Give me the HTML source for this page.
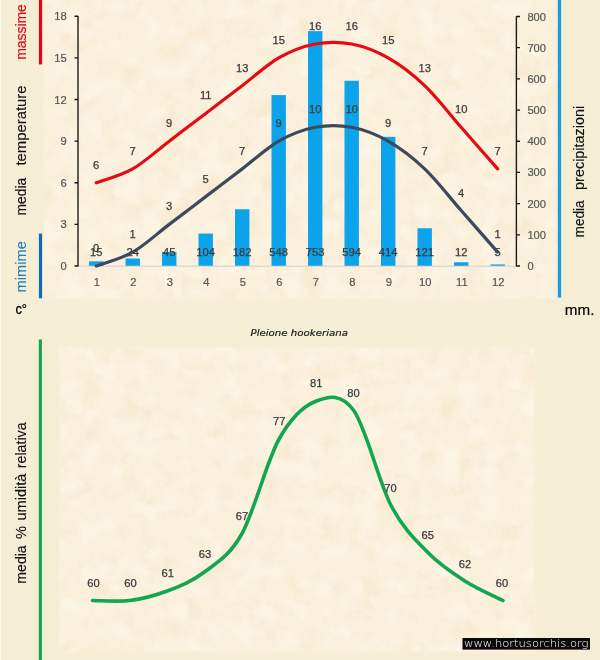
<!DOCTYPE html>
<html lang="it"><head><meta charset="utf-8"><title>Pleione hookeriana</title>
<style>html,body{margin:0;padding:0;background:#f5eed4;}body{width:600px;height:660px;overflow:hidden;}svg{display:block;}text{font-family:"Liberation Sans",Arial,sans-serif;}.dl{font-size:11.2px;fill:#3a3a3a;stroke:#3a3a3a;stroke-width:0.25px;text-anchor:middle;}.ax{font-size:11.2px;fill:#555;stroke:#555;stroke-width:0.2px;}.vt{font-size:15.2px;fill:#111;stroke:#111;stroke-width:0.15px;}</style></head><body>
<svg width="600" height="660" viewBox="0 0 600 660">
<defs>
<filter id="mott" x="0" y="0" width="100%" height="100%" color-interpolation-filters="sRGB"><feTurbulence type="fractalNoise" baseFrequency="0.05" numOctaves="4" seed="11" result="n"/><feColorMatrix in="n" type="matrix" values="0 0 0 0 1  0 0 0 0 0.98  0 0 0 0 0.93  3.2 0 0 0 -1.45" result="w"/><feColorMatrix in="n" type="matrix" values="0 0 0 0 0.955  0 0 0 0 0.89  0 0 0 0 0.77  0 3.0 0 0 -1.45" result="t"/><feMerge><feMergeNode in="t"/><feMergeNode in="w"/></feMerge></filter>
<filter id="soft" x="-5%" y="-5%" width="110%" height="110%"><feGaussianBlur stdDeviation="1.2"/></filter>
</defs>
<rect width="600" height="660" fill="#f5eed4"/>
<rect x="0" y="0" width="1.2" height="660" fill="#fffcf0"/>
<g filter="url(#soft)"><rect x="43.5" y="-5" width="515.5" height="304" fill="#fbf0dc"/>
<rect x="59" y="347" width="476" height="305" fill="#fbf0dc"/></g>
<g opacity="0.48"><rect x="44.5" y="0" width="513.5" height="298" filter="url(#mott)"/>
<rect x="60" y="348" width="474" height="303" filter="url(#mott)"/></g>
<rect x="38.9" y="0" width="3.2" height="64.4" fill="#e2070f"/>
<rect x="38.9" y="233.6" width="3.2" height="64.7" fill="#0f69b4"/>
<rect x="557.8" y="0" width="3.3" height="297.6" fill="#189de2"/>
<rect x="38.8" y="339.5" width="3.1" height="321" fill="#12a650"/>
<rect x="89.05" y="261.32" width="14.4" height="4.68" fill="#0ca3ea"/>
<rect x="125.54" y="258.51" width="14.4" height="7.49" fill="#0ca3ea"/>
<rect x="162.03" y="251.97" width="14.4" height="14.03" fill="#0ca3ea"/>
<rect x="198.52" y="233.56" width="14.4" height="32.44" fill="#0ca3ea"/>
<rect x="235.01" y="209.24" width="14.4" height="56.76" fill="#0ca3ea"/>
<rect x="271.50" y="95.09" width="14.4" height="170.91" fill="#0ca3ea"/>
<rect x="308.00" y="31.16" width="14.4" height="234.84" fill="#0ca3ea"/>
<rect x="344.49" y="80.75" width="14.4" height="185.25" fill="#0ca3ea"/>
<rect x="380.98" y="136.88" width="14.4" height="129.12" fill="#0ca3ea"/>
<rect x="417.47" y="228.26" width="14.4" height="37.74" fill="#0ca3ea"/>
<rect x="453.96" y="262.26" width="14.4" height="3.74" fill="#0ca3ea"/>
<rect x="490.45" y="264.44" width="14.4" height="1.56" fill="#0ca3ea"/>
<path d="M78.0 266.2H515.9" stroke="#d0d0d0" stroke-width="1" fill="none"/>
<path d="M78 16V266.5M74.5 266.00H78M74.5 224.38H78M74.5 182.77H78M74.5 141.15H78M74.5 99.53H78M74.5 57.92H78M74.5 16.30H78" stroke="#151515" stroke-width="1.35" fill="none"/>
<path d="M516.4 16.2V266.5M516.4 266.00H520M516.4 234.81H520M516.4 203.62H520M516.4 172.44H520M516.4 141.25H520M516.4 110.06H520M516.4 78.88H520M516.4 47.69H520M516.4 16.50H520" stroke="#151515" stroke-width="1.35" fill="none"/>
<text class="ax" x="66.8" y="270.0" text-anchor="end">0</text>
<text class="ax" x="66.8" y="228.4" text-anchor="end">3</text>
<text class="ax" x="66.8" y="186.8" text-anchor="end">6</text>
<text class="ax" x="66.8" y="145.2" text-anchor="end">9</text>
<text class="ax" x="66.8" y="103.5" text-anchor="end">12</text>
<text class="ax" x="66.8" y="61.9" text-anchor="end">15</text>
<text class="ax" x="66.8" y="20.3" text-anchor="end">18</text>
<text class="ax" x="527.4" y="270.0">0</text>
<text class="ax" x="527.4" y="238.8">100</text>
<text class="ax" x="527.4" y="207.6">200</text>
<text class="ax" x="527.4" y="176.4">300</text>
<text class="ax" x="527.4" y="145.2">400</text>
<text class="ax" x="527.4" y="114.1">500</text>
<text class="ax" x="527.4" y="82.9">600</text>
<text class="ax" x="527.4" y="51.7">700</text>
<text class="ax" x="527.4" y="20.5">800</text>
<text class="ax" x="96.8" y="286" text-anchor="middle">1</text>
<text class="ax" x="133.3" y="286" text-anchor="middle">2</text>
<text class="ax" x="169.8" y="286" text-anchor="middle">3</text>
<text class="ax" x="206.3" y="286" text-anchor="middle">4</text>
<text class="ax" x="242.8" y="286" text-anchor="middle">5</text>
<text class="ax" x="279.3" y="286" text-anchor="middle">6</text>
<text class="ax" x="315.8" y="286" text-anchor="middle">7</text>
<text class="ax" x="352.3" y="286" text-anchor="middle">8</text>
<text class="ax" x="388.8" y="286" text-anchor="middle">9</text>
<text class="ax" x="425.3" y="286" text-anchor="middle">10</text>
<text class="ax" x="461.8" y="286" text-anchor="middle">11</text>
<text class="ax" x="498.3" y="286" text-anchor="middle">12</text>
<text class="dl" x="96.2" y="256.2">15</text>
<text class="dl" x="132.7" y="256.2">24</text>
<text class="dl" x="169.2" y="256.2">45</text>
<text class="dl" x="205.7" y="256.2">104</text>
<text class="dl" x="242.2" y="256.2">182</text>
<text class="dl" x="278.7" y="256.2">548</text>
<text class="dl" x="315.2" y="256.2">753</text>
<text class="dl" x="351.7" y="256.2">594</text>
<text class="dl" x="388.2" y="256.2">414</text>
<text class="dl" x="424.7" y="256.2">121</text>
<text class="dl" x="461.2" y="256.2">12</text>
<text class="dl" x="497.7" y="256.2">5</text>
<path d="M96.25 266.00 C102.33 263.69 120.57 259.06 132.74 252.13 C144.90 245.19 157.07 233.63 169.23 224.38 C181.39 215.14 193.56 205.89 205.72 196.64 C217.88 187.39 230.05 178.14 242.21 168.89 C254.38 159.65 266.54 148.09 278.70 141.15 C290.87 134.21 303.03 129.59 315.20 127.28 C327.36 124.97 339.52 124.97 351.69 127.28 C363.85 129.59 376.02 134.21 388.18 141.15 C400.34 148.09 412.51 157.33 424.67 168.89 C436.83 180.45 449.00 196.64 461.16 210.51 C473.33 224.38 491.57 245.19 497.65 252.13" stroke="#3d4a5e" stroke-width="3.2" fill="none" stroke-linecap="round"/>
<path d="M96.25 182.77 C102.33 180.45 120.57 175.83 132.74 168.89 C144.90 161.96 157.07 150.40 169.23 141.15 C181.39 131.90 193.56 122.65 205.72 113.41 C217.88 104.16 230.05 94.91 242.21 85.66 C254.38 76.41 266.54 64.85 278.70 57.92 C290.87 50.98 303.03 46.36 315.20 44.04 C327.36 41.73 339.52 41.73 351.69 44.04 C363.85 46.36 376.02 50.98 388.18 57.92 C400.34 64.85 412.51 74.10 424.67 85.66 C436.83 97.22 449.00 113.41 461.16 127.28 C473.33 141.15 491.57 161.96 497.65 168.89" stroke="#e60a12" stroke-width="3.2" fill="none" stroke-linecap="round"/>
<text class="dl" x="96.2" y="252.0">0</text>
<text class="dl" x="132.7" y="238.1">1</text>
<text class="dl" x="169.2" y="210.4">3</text>
<text class="dl" x="205.7" y="182.6">5</text>
<text class="dl" x="242.2" y="154.9">7</text>
<text class="dl" x="278.7" y="127.2">9</text>
<text class="dl" x="315.2" y="113.3">10</text>
<text class="dl" x="351.7" y="113.3">10</text>
<text class="dl" x="388.2" y="127.2">9</text>
<text class="dl" x="424.7" y="154.9">7</text>
<text class="dl" x="461.2" y="196.5">4</text>
<text class="dl" x="497.7" y="238.1">1</text>
<text class="dl" x="96.2" y="168.8">6</text>
<text class="dl" x="132.7" y="154.9">7</text>
<text class="dl" x="169.2" y="127.2">9</text>
<text class="dl" x="205.7" y="99.4">11</text>
<text class="dl" x="242.2" y="71.7">13</text>
<text class="dl" x="278.7" y="43.9">15</text>
<text class="dl" x="315.2" y="30.0">16</text>
<text class="dl" x="351.7" y="30.0">16</text>
<text class="dl" x="388.2" y="43.9">15</text>
<text class="dl" x="424.7" y="71.7">13</text>
<text class="dl" x="461.2" y="113.3">10</text>
<text class="dl" x="497.7" y="154.9">7</text>
<text class="vt" transform="translate(25.8 59.8) rotate(-90)" textLength="55.6" lengthAdjust="spacingAndGlyphs" fill="#e2070f" style="fill:#e2070f;stroke:#e2070f">massime</text>
<text class="vt" transform="translate(25.8 165.6) rotate(-90)" textLength="80.2" lengthAdjust="spacingAndGlyphs" fill="#111">temperature</text>
<text class="vt" transform="translate(25.8 215.5) rotate(-90)" textLength="37.7" lengthAdjust="spacingAndGlyphs" fill="#111">media</text>
<text class="vt" transform="translate(25.8 292.4) rotate(-90)" textLength="51.2" lengthAdjust="spacingAndGlyphs" fill="#1a80bd" style="fill:#1a80bd;stroke:#1a80bd">mimime</text>
<text class="vt" transform="translate(584.4 189.9) rotate(-90)" textLength="84.1" lengthAdjust="spacingAndGlyphs" fill="#111">precipitazioni</text>
<text class="vt" transform="translate(584.4 237.4) rotate(-90)" textLength="37.1" lengthAdjust="spacingAndGlyphs" fill="#111">media</text>
<text class="vt" transform="translate(25.8 583.7) rotate(-90)" textLength="38.4" lengthAdjust="spacingAndGlyphs" fill="#111">media</text>
<text class="vt" transform="translate(25.8 539.0) rotate(-90)" textLength="13.0" lengthAdjust="spacingAndGlyphs" fill="#111">%</text>
<text class="vt" transform="translate(25.8 520.5) rotate(-90)" textLength="46.9" lengthAdjust="spacingAndGlyphs" fill="#111">umidità</text>
<text class="vt" transform="translate(25.8 468.2) rotate(-90)" textLength="45.8" lengthAdjust="spacingAndGlyphs" fill="#111">relativa</text>
<text x="15.4" y="314.3" style="font-size:15.4px;fill:#000;stroke:#000;stroke-width:0.3px" textLength="11.6" lengthAdjust="spacingAndGlyphs">c°</text>
<text x="564.8" y="314.5" style="font-size:15.4px;fill:#000;stroke:#000;stroke-width:0.2px" textLength="29.6" lengthAdjust="spacingAndGlyphs">mm.</text>
<text x="250.5" y="335.7" style="font-family:'DejaVu Sans','Liberation Sans',sans-serif;font-style:italic;font-size:9.3px;fill:#1a1a1a;stroke:#1a1a1a;stroke-width:0.2px" textLength="97.5" lengthAdjust="spacingAndGlyphs">Pleione hookeriana</text>
<path d="M92.50 600.50 C98.72 600.50 117.38 602.08 129.82 600.50 C142.26 598.92 154.70 595.75 167.14 591.00 C179.58 586.25 192.02 581.50 204.45 572.00 C216.89 562.50 229.33 556.17 241.77 534.00 C254.21 511.83 266.65 461.17 279.09 439.00 C291.53 416.83 303.97 405.75 316.41 401.00 C328.85 396.25 341.29 393.08 353.73 410.50 C366.17 427.92 378.61 481.75 391.05 505.50 C403.48 529.25 415.92 540.33 428.36 553.00 C440.80 565.67 453.24 573.58 465.68 581.50 C478.12 589.42 496.78 597.33 503.00 600.50" stroke="#12a650" stroke-width="3.6" fill="none" stroke-linecap="round"/>
<text class="dl" x="93.5" y="586.8">60</text>
<text class="dl" x="130.6" y="586.8">60</text>
<text class="dl" x="167.8" y="577.3">61</text>
<text class="dl" x="204.9" y="558.3">63</text>
<text class="dl" x="242.1" y="520.3">67</text>
<text class="dl" x="279.2" y="425.3">77</text>
<text class="dl" x="316.3" y="387.3">81</text>
<text class="dl" x="353.5" y="396.8">80</text>
<text class="dl" x="390.6" y="491.8">70</text>
<text class="dl" x="427.8" y="539.3">65</text>
<text class="dl" x="464.9" y="567.8">62</text>
<text class="dl" x="502.0" y="586.8">60</text>
<rect x="462.5" y="638" width="127.5" height="11.6" fill="#0a0a0a"/>
<text x="464" y="647.4" style="font-family:'DejaVu Sans Light','DejaVu Sans',sans-serif;font-weight:200;font-size:10.5px;fill:#fff" textLength="124.5" lengthAdjust="spacingAndGlyphs">www.hortusorchis.org</text>
</svg></body></html>
